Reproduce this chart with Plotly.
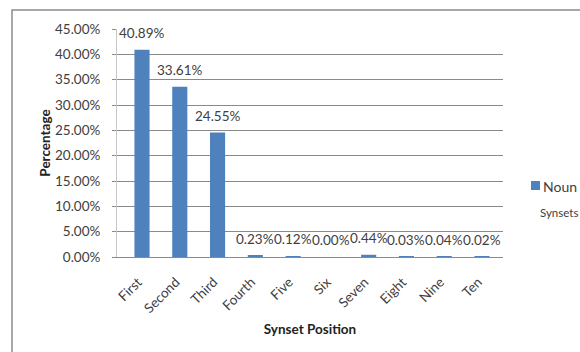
import plotly.graph_objects as go

# Share of senses by synset position
positions = ["First", "Second", "Third", "Fourth", "Five", "Six", "Seven", "Eight", "Nine", "Ten"]
percentages = [40.89, 33.61, 24.55, 0.23, 0.12, 0.00, 0.44, 0.03, 0.04, 0.02]
y_ticks = [0, 5, 10, 15, 20, 25, 30, 35, 40, 45]
series_name = "Noun"
series_sub = "Synsets"

BLUE = "#4F81BD"
TEXT = "#404040"
FONT = "Lato, 'Open Sans', sans-serif"

W, H = 580, 352
ML, MR, MT, MB = 117, 77, 29, 95
PW, PH = W - ML - MR, H - MT - MB


def px_x(px):
    return (px - ML) / PW


def px_y(py):
    return (H - MB - py) / PH


fig = go.Figure()
fig.add_trace(go.Bar(
    x=positions,
    y=[v / 100 for v in percentages],
    marker=dict(color=BLUE, line=dict(width=0)),
    showlegend=False,
    hoverinfo="skip",
))

# value labels above each bar
for cat, v in zip(positions, percentages):
    fig.add_annotation(
        x=cat, y=v / 100, xref="x", yref="y",
        text=f"{v:.2f}%", showarrow=False,
        yanchor="bottom", yshift=7,
        font=dict(family=FONT, size=13.5, color=TEXT),
    )

# chart-area frame
fig.add_shape(type="rect", xref="paper", yref="paper",
              x0=px_x(12), x1=px_x(640), y0=px_y(420), y1=px_y(10),
              line=dict(color="#8C8C8C", width=1.5), fillcolor="rgba(0,0,0,0)",
              layer="below")

# legend
fig.add_shape(type="rect", xref="paper", yref="paper",
              x0=px_x(531), x1=px_x(540), y0=px_y(190), y1=px_y(181),
              line=dict(width=0), fillcolor=BLUE)
fig.add_annotation(x=px_x(541), y=px_y(186), xref="paper", yref="paper",
                   text=series_name, showarrow=False, xanchor="left", yanchor="middle",
                   font=dict(family=FONT, size=14, color=TEXT))
fig.add_annotation(x=px_x(538), y=px_y(212), xref="paper", yref="paper",
                   text=series_sub, showarrow=False, xanchor="left", yanchor="middle",
                   font=dict(family=FONT, size=11.5, color=TEXT))

fig.update_layout(
    width=W, height=H,
    margin=dict(l=ML, r=MR, t=MT, b=MB, autoexpand=False),
    paper_bgcolor="white", plot_bgcolor="white",
    bargap=0.6,
    showlegend=False,
    font=dict(family=FONT, color=TEXT),
)
fig.update_yaxes(
    range=[0, 0.45], tickvals=[t / 100 for t in y_ticks],
    ticktext=[f"{t:.2f}%" for t in y_ticks],
    showgrid=True, gridcolor="#8A8A8A", gridwidth=1,
    showline=True, linecolor="#C8C8C8", linewidth=1,
    ticks="outside", ticklen=4, tickcolor="#8A8A8A",
    ticklabelstandoff=9,
    tickfont=dict(family=FONT, size=13.5, color=TEXT),
    zeroline=False,
    title=dict(text="<b>Percentage</b>", standoff=1,
               font=dict(family=FONT, size=13.5, color="#222222")),
)
fig.update_xaxes(
    tickangle=-45,
    showline=True, linecolor="#8A8A8A", linewidth=1,
    ticks="", showgrid=False,
    ticklabelstandoff=11,
    ticklabelshift=-4,
    tickfont=dict(family=FONT, size=13.5, color=TEXT),
    title=dict(text="<b>Synset Position</b>", standoff=9,
               font=dict(family=FONT, size=13.5, color="#222222")),
)

fig.write_html("out.html")
